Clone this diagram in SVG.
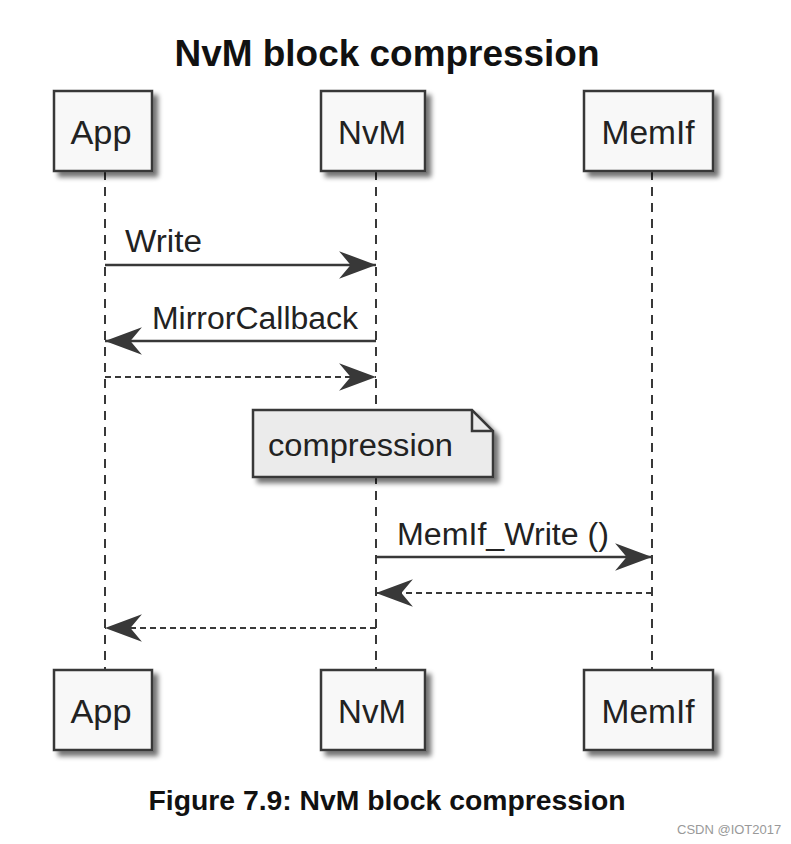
<svg xmlns="http://www.w3.org/2000/svg" width="791" height="844" viewBox="0 0 791 844">
<defs>
<filter id="sh" x="-20%" y="-20%" width="150%" height="150%">
<feGaussianBlur in="SourceAlpha" stdDeviation="2.5"/>
<feOffset dx="5" dy="5" result="b"/>
<feComponentTransfer><feFuncA type="linear" slope="0.55"/></feComponentTransfer>
<feMerge><feMergeNode/><feMergeNode in="SourceGraphic"/></feMerge>
</filter>
<marker id="ah" markerUnits="userSpaceOnUse" markerWidth="40" markerHeight="30" viewBox="0 0 32 26" refX="32" refY="13" orient="auto">
<polygon points="32,13 0,1 10,13 0,25" fill="#383838"/>
</marker>
</defs>
<style>
.box{fill:#f8f8f8;stroke:#383838;stroke-width:2.5}
.lbl{font-family:"Liberation Sans",Arial,sans-serif;font-size:33px;fill:#222;text-anchor:middle}
.msg{font-family:"Liberation Sans",Arial,sans-serif;font-size:31px;fill:#222}
.life{stroke:#383838;stroke-width:2;stroke-dasharray:9,7;fill:none}
.solid{stroke:#383838;stroke-width:2.5;fill:none}
.dash{stroke:#383838;stroke-width:2;stroke-dasharray:6,4;fill:none}
</style>
<rect width="791" height="844" fill="#fff"/>
<text x="387" y="66" font-family="'Liberation Sans',Arial,sans-serif" font-size="36" font-weight="bold" text-anchor="middle" fill="#111" textLength="425" lengthAdjust="spacingAndGlyphs">NvM block compression</text>
<g id="lifelines">
<line class="life" x1="105" y1="171" x2="105" y2="670"/>
<line class="life" x1="376" y1="171" x2="376" y2="670"/>
<line class="life" x1="652" y1="171" x2="652" y2="670"/>
</g>
<g id="App">
<rect class="box" x="54" y="91" width="98" height="80" filter="url(#sh)"/>
<text class="lbl" x="101" y="144" textLength="61" lengthAdjust="spacingAndGlyphs">App</text>
</g>
<g id="NvM">
<rect class="box" x="321" y="91" width="104" height="80" filter="url(#sh)"/>
<text class="lbl" x="372" y="144">NvM</text>
</g>
<g id="MemIf">
<rect class="box" x="584" y="91" width="129" height="80" filter="url(#sh)"/>
<text class="lbl" x="648" y="144" textLength="93" lengthAdjust="spacingAndGlyphs">MemIf</text>
</g>
<g id="App_bottom">
<rect class="box" x="54" y="670" width="98" height="80" filter="url(#sh)"/>
<text class="lbl" x="101" y="723" textLength="61" lengthAdjust="spacingAndGlyphs">App</text>
</g>
<g id="NvM_bottom">
<rect class="box" x="321" y="670" width="104" height="80" filter="url(#sh)"/>
<text class="lbl" x="372" y="723">NvM</text>
</g>
<g id="MemIf_bottom">
<rect class="box" x="584" y="670" width="129" height="80" filter="url(#sh)"/>
<text class="lbl" x="648" y="723" textLength="93" lengthAdjust="spacingAndGlyphs">MemIf</text>
</g>
<g id="note">
<path d="M253,410 H472 L493,431 V477 H253 Z" fill="#ebebeb" stroke="#383838" stroke-width="2.5" filter="url(#sh)"/>
<path d="M472,410 V431 H493" fill="none" stroke="#383838" stroke-width="2.5"/>
<text class="msg" x="268" y="456" textLength="185" lengthAdjust="spacingAndGlyphs">compression</text>
</g>
<g id="connectors">
<line class="solid" x1="105" y1="265" x2="376" y2="265" marker-end="url(#ah)"/>
<text class="msg" x="125" y="252" textLength="77" lengthAdjust="spacingAndGlyphs">Write</text>
<line class="solid" x1="376" y1="341" x2="105" y2="341" marker-end="url(#ah)"/>
<text class="msg" x="152" y="329" textLength="206" lengthAdjust="spacingAndGlyphs">MirrorCallback</text>
<line class="dash" x1="105" y1="377" x2="376" y2="377" marker-end="url(#ah)"/>
<line class="solid" x1="376" y1="557" x2="652" y2="557" marker-end="url(#ah)"/>
<text class="msg" x="397" y="545" textLength="212" lengthAdjust="spacingAndGlyphs">MemIf_Write ()</text>
<line class="dash" x1="652" y1="593" x2="376" y2="593" marker-end="url(#ah)"/>
<line class="dash" x1="376" y1="628" x2="105" y2="628" marker-end="url(#ah)"/>
</g>
<text x="387" y="810" font-family="'Liberation Sans',Arial,sans-serif" font-size="28" font-weight="bold" text-anchor="middle" fill="#111" textLength="477" lengthAdjust="spacingAndGlyphs">Figure 7.9: NvM block compression</text>
<text x="677" y="834" font-family="'Liberation Sans',Arial,sans-serif" font-size="13" fill="#999">CSDN @IOT2017</text>
</svg>
